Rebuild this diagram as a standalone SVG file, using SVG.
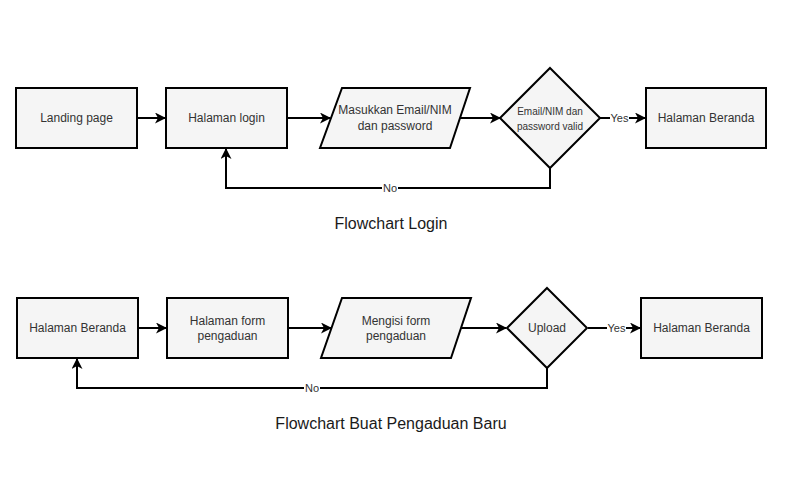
<svg xmlns="http://www.w3.org/2000/svg" width="800" height="500" viewBox="0 0 800 500">
<style>
.n{fill:#f5f5f5;stroke:#000;stroke-width:2}
.t{font-family:"Liberation Sans",Arial,sans-serif;font-size:12px;fill:#333;text-anchor:middle}
.s{font-size:10px}
.e{fill:none;stroke:#000;stroke-width:2}
.lb{font-family:"Liberation Sans",Arial,sans-serif;font-size:11px;fill:#333;text-anchor:middle}
.title{font-family:"Liberation Sans",Arial,sans-serif;font-size:16px;fill:#1a1a1a;text-anchor:middle}
</style>
<defs>
<marker id="a" markerWidth="11" markerHeight="11" refX="10" refY="5.5" orient="auto" markerUnits="userSpaceOnUse">
<path d="M0,0 L11,5.5 L0,11 L3,5.5 Z" fill="#000"/>
</marker>
</defs>
<rect width="800" height="500" fill="#fff"/>
<g id="connectors">
<path class="e" d="M137,118 H165" marker-end="url(#a)"/>
<path class="e" d="M287,118 H330" marker-end="url(#a)"/>
<path class="e" d="M460,118 H500" marker-end="url(#a)"/>
<path class="e" d="M600,118 H645" marker-end="url(#a)"/>
<path class="e" d="M550,168 V188 H226 V149" marker-end="url(#a)"/>
<rect x="610" y="112" width="19" height="12" fill="#fff"/>
<text class="lb" x="619.5" y="122">Yes</text>
<rect x="382" y="182" width="16" height="12" fill="#fff"/>
<text class="lb" x="390" y="192">No</text>
<path class="e" d="M138,328 H166" marker-end="url(#a)"/>
<path class="e" d="M288,328 H331" marker-end="url(#a)"/>
<path class="e" d="M461,328 H506" marker-end="url(#a)"/>
<path class="e" d="M588,328 H640" marker-end="url(#a)"/>
<path class="e" d="M547,368 V388 H77 V359" marker-end="url(#a)"/>
<rect x="607" y="322" width="19" height="12" fill="#fff"/>
<text class="lb" x="616.5" y="332">Yes</text>
<rect x="304" y="382" width="16" height="12" fill="#fff"/>
<text class="lb" x="312" y="392">No</text>
</g>
<g id="landing"><rect class="n" x="16" y="88" width="121" height="60"/><text class="t" x="76.5" y="122">Landing page</text></g>
<g id="login"><rect class="n" x="166" y="88" width="121" height="60"/><text class="t" x="226.5" y="122">Halaman login</text></g>
<g id="input"><polygon class="n" points="342,88 470,88 450,148 320,148"/><text class="t" x="395" y="114">Masukkan Email/NIM</text><text class="t" x="395" y="130">dan password</text></g>
<g id="valid"><polygon class="n" points="550,68 600,118 550,168 500,118"/><text class="t s" x="550" y="115">Email/NIM dan</text><text class="t s" x="550" y="130">password valid</text></g>
<g id="beranda1"><rect class="n" x="646" y="88" width="120" height="60"/><text class="t" x="706" y="122">Halaman Beranda</text></g>
<text class="title" x="391" y="229">Flowchart Login</text>
<g id="beranda2"><rect class="n" x="17" y="298" width="121" height="60"/><text class="t" x="77.5" y="332">Halaman Beranda</text></g>
<g id="form"><rect class="n" x="167" y="298" width="121" height="60"/><text class="t" x="227.5" y="325">Halaman form</text><text class="t" x="227.5" y="340">pengaduan</text></g>
<g id="isi"><polygon class="n" points="342,298 471,298 451,358 321,358"/><text class="t" x="396" y="325">Mengisi form</text><text class="t" x="396" y="340">pengaduan</text></g>
<g id="upload"><polygon class="n" points="547,288 587,328 547,368 507,328"/><text class="t" x="547" y="332">Upload</text></g>
<g id="beranda3"><rect class="n" x="641" y="298" width="121" height="60"/><text class="t" x="701.5" y="332">Halaman Beranda</text></g>
<text class="title" x="391" y="429">Flowchart Buat Pengaduan Baru</text>
</svg>
